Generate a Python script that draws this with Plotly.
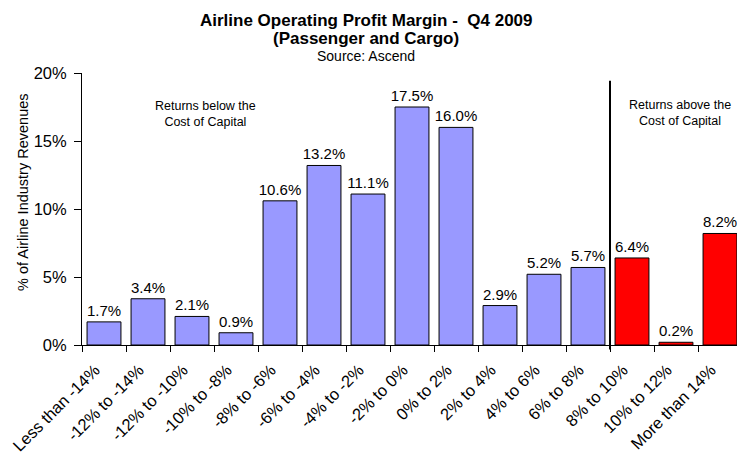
import plotly.graph_objects as go

categories = ["Less than -14%", "-12% to -14%", "-12% to -10%", "-10% to -8%", "-8% to -6%",
              "-6% to -4%", "-4% to -2%", "-2% to 0%", "0% to 2%", "2% to 4%", "4% to 6%",
              "6% to 8%", "8% to 10%", "10% to 12%", "More than 14%"]
values = [1.7, 3.4, 2.1, 0.9, 10.6, 13.2, 11.1, 17.5, 16.0, 2.9, 5.2, 5.7, 6.4, 0.2, 8.2]
above_cost = [False]*12 + [True]*3
y_ticks = [0, 5, 10, 15, 20]
y_ticklabels = ["0%", "5%", "10%", "15%", "20%"]

colors = ["#FF0000" if a else "#9999FF" for a in above_cost]

FONT = "Liberation Sans, Arial, sans-serif"

PAGE_W, PAGE_H = 737, 455
# plot area in page pixels
LEFT, TOP, BOTTOM, RIGHT = 82, 72.7, 345.5, 737
H = BOTTOM - TOP
PW = RIGHT - LEFT
CAT = 44.0

def py(ypix):
    return (BOTTOM - ypix) / H

def px(xpix):
    return (xpix - LEFT) / PW

fig = go.Figure()
fig.add_trace(go.Bar(
    x=categories, y=values,
    marker=dict(color=colors, line=dict(color="#000000", width=1)),
    width=0.77,
    text=[f"{v:.1f}%" for v in values],
    textposition="outside",
    constraintext="none",
    textfont=dict(family=FONT, size=15, color="#000000"),
    cliponaxis=False,
    hoverinfo="skip",
))

fig.add_shape(type="line", xref="x", yref="paper", x0=11.5, x1=11.5,
              y0=py(350), y1=py(80.5), line=dict(color="#000000", width=2))

titles = [
    dict(text="<b>Airline Operating Profit Margin -\u00a0 Q4 2009</b>", y=py(20), size=17),
    dict(text="<b>(Passenger and Cargo)</b>", y=py(38.5), size=17),
    dict(text="Source: Ascend", y=py(56), size=14),
]
for a in titles:
    fig.add_annotation(text=a["text"], xref="paper", yref="paper", x=px(366), y=a["y"],
                       xanchor="center", yanchor="middle", showarrow=False,
                       font=dict(family=FONT, size=a["size"], color="#000000"))

fig.add_annotation(text="Returns below the<br>Cost of Capital", xref="x", yref="paper",
                   x=2.31, y=py(114), xanchor="center", yanchor="middle", showarrow=False,
                   font=dict(family=FONT, size=12.5, color="#000000"))
fig.add_annotation(text="Returns above the<br>Cost of Capital", xref="x", yref="paper",
                   x=13.1, y=py(113), xanchor="center", yanchor="middle", showarrow=False,
                   font=dict(family=FONT, size=12.5, color="#000000"))

# y-axis title
fig.add_annotation(text="% of Airline Industry Revenues", xref="paper", yref="paper",
                   x=px(23), y=py(193), xanchor="center", yanchor="middle", textangle=-90,
                   showarrow=False, font=dict(family=FONT, size=14.5, color="#000000"))

fig.update_layout(
    width=PAGE_W, height=PAGE_H,
    margin=dict(l=LEFT, r=PAGE_W - RIGHT, t=TOP, b=PAGE_H - BOTTOM, autoexpand=False),
    paper_bgcolor="#FFFFFF", plot_bgcolor="#FFFFFF",
    showlegend=False,
    font=dict(family=FONT, size=14, color="#000000"),
)
fig.update_xaxes(
    type="category", range=[-0.5, -0.5 + PW / CAT], automargin=False,
    showline=True, linecolor="#000000", linewidth=1,
    ticks="outside", tickson="boundaries", ticklen=6, tickcolor="#000000",
    tickangle=-45, tickfont=dict(family=FONT, size=16.5, color="#000000"),
    ticklabelstandoff=8, ticklabelshift=-9,
    showgrid=False, zeroline=False,
)
fig.update_yaxes(
    range=[0, 20], tickvals=y_ticks, ticktext=y_ticklabels, automargin=False,
    showline=True, linecolor="#000000", linewidth=1,
    ticks="outside", ticklen=7, tickcolor="#000000",
    tickfont=dict(family=FONT, size=16.5, color="#000000"),
    ticklabelstandoff=4,
    showgrid=False, zeroline=False,
)

fig.write_html("out.html", config={"displayModeBar": False},
               post_script="document.body.style.margin='0';document.body.style.overflow='hidden';")
